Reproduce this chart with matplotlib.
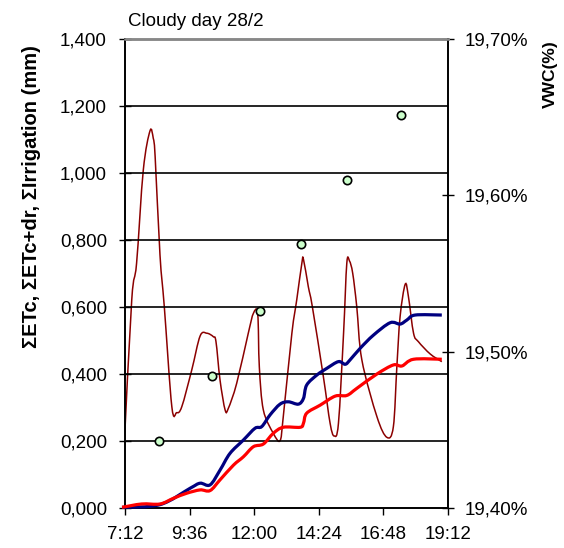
import matplotlib
matplotlib.use("Agg")
import numpy as np
import matplotlib.pyplot as plt
from matplotlib.path import Path
from matplotlib.patches import PathPatch

plt.rcParams['font.family'] = ['Liberation Sans', 'DejaVu Sans']

# Time in decimal hours
vwc_t = [7.16, 7.45, 7.63, 7.88, 8.13, 8.25, 8.32, 8.50, 8.66, 8.94, 9.12, 9.31, 9.68, 9.99,
         10.24, 10.48, 10.58, 10.73, 10.92, 11.04, 11.35, 11.78, 11.97, 12.13, 12.19, 12.34,
         12.71, 12.96, 13.08, 13.40, 13.58, 13.77, 13.83, 14.01, 14.16, 14.57, 14.82, 14.97,
         15.13, 15.32, 15.44, 15.54, 15.66, 15.81, 16.00, 16.56, 16.93, 17.17, 17.30, 17.42,
         17.61, 17.73, 17.92, 18.10, 18.54, 18.97]
vwc_v = [19.436, 19.533, 19.5565, 19.6162, 19.6413, 19.6365, 19.6247, 19.5618, 19.5288,
         19.4648, 19.4610, 19.4648, 19.4883, 19.5100, 19.5118, 19.5096, 19.5064, 19.4819,
         19.4627, 19.4638, 19.4798, 19.5118, 19.5245, 19.5241, 19.4904, 19.4627, 19.4478,
         19.4431, 19.4584, 19.5118, 19.5331, 19.5565, 19.5591, 19.5416, 19.5288, 19.4840,
         19.4542, 19.4461, 19.4542, 19.5118, 19.5565, 19.5580, 19.5501, 19.5288, 19.4947,
         19.4584, 19.4452, 19.4520, 19.4904, 19.5224, 19.5431, 19.5352, 19.5118, 19.5064,
         19.4985, 19.4936]

etc_dr_t = [7.09, 8.50, 9.62, 9.99, 10.36, 10.73, 11.10, 11.60, 12.03, 12.28, 12.59, 12.96,
            13.27, 13.64, 13.83, 13.95, 14.33, 14.70, 15.13, 15.38, 15.56, 15.94, 16.43,
            17.05, 17.42, 17.67, 17.98, 18.97]
etc_dr_v = [0.002, 0.010, 0.059, 0.074, 0.069, 0.113, 0.163, 0.203, 0.238, 0.243, 0.278,
            0.310, 0.317, 0.310, 0.327, 0.367, 0.397, 0.417, 0.437, 0.429, 0.442, 0.477,
            0.516, 0.553, 0.549, 0.561, 0.576, 0.576]

etc_t = [7.09, 7.82, 8.50, 9.00, 9.49, 9.99, 10.36, 10.73, 11.23, 11.60, 11.97, 12.34, 12.71,
         13.08, 13.71, 13.83, 13.95, 14.45, 15.01, 15.44, 15.81, 16.56, 17.17, 17.49, 17.92,
         18.97]
etc_v = [0.002, 0.012, 0.012, 0.029, 0.044, 0.054, 0.052, 0.084, 0.128, 0.153, 0.183, 0.191,
         0.223, 0.241, 0.241, 0.253, 0.283, 0.307, 0.334, 0.336, 0.357, 0.400, 0.427, 0.424,
         0.444, 0.444]

irr_t = [8.475, 10.45, 12.21, 13.73, 15.43, 17.46]
irr_v = [0.200, 0.395, 0.588, 0.787, 0.979, 1.172]

xticks = [7.2, 9.6, 12.0, 14.4, 16.8, 19.2]
xticklabels = ['7:12', '9:36', '12:00', '14:24', '16:48', '19:12']
yticks = [0.0, 0.2, 0.4, 0.6, 0.8, 1.0, 1.2, 1.4]
y2ticks = [19.40, 19.50, 19.60, 19.70]


def smooth_line(ax, xs, ys, **kw):
    """Excel-style smoothed line (Catmull-Rom rendered as cubic Bezier)."""
    p = np.column_stack([xs, ys]).astype(float)
    n = len(p)
    verts = [p[0]]
    codes = [Path.MOVETO]
    for i in range(n - 1):
        p0 = p[i - 1] if i > 0 else p[i]
        p1 = p[i]
        p2 = p[i + 1]
        p3 = p[i + 2] if i + 2 < n else p[i + 1]
        verts += [p1 + (p2 - p0) / 6.0, p2 - (p3 - p1) / 6.0, p2]
        codes += [Path.CURVE4] * 3
    patch = PathPatch(Path(verts, codes), fill=False, transform=ax.transData, **kw)
    ax.add_patch(patch)
    return patch


fig = plt.figure(figsize=(5.64, 5.48), dpi=100)
ax = fig.add_axes([125/564, 1-508/548, 323/564, 469/548])
ax2 = ax.twinx()

ax.set_xlim(7.2, 19.2)
ax.set_ylim(0, 1.4)
ax2.set_ylim(19.40, 19.70)

for y in yticks[1:-1]:
    ax.axhline(y, color='black', lw=1.2, zorder=1)

smooth_line(ax2, vwc_t, vwc_v, edgecolor='#8B0000', lw=1.1, zorder=2)
smooth_line(ax, etc_dr_t, etc_dr_v, edgecolor='#000080', lw=2.3, zorder=3, clip_on=False,
            capstyle='butt', joinstyle='round')
smooth_line(ax, etc_t, etc_v, edgecolor='#FF0000', lw=2.3, zorder=3, clip_on=False,
            capstyle='butt', joinstyle='round')
ax.plot(irr_t, irr_v, 'o', ms=6, mfc='#CCFFCC', mec='black', mew=1.2, zorder=4)

ax.set_zorder(ax2.get_zorder() + 1)
ax.patch.set_visible(False)

ax.set_xticks(xticks)
ax.set_xticklabels(xticklabels)
ax.set_yticks(yticks)
ax.set_yticklabels([('%.3f' % v).replace('.', ',') for v in yticks])
ax2.set_yticks(y2ticks)
ax2.set_yticklabels([('%.2f%%' % v).replace('.', ',') for v in y2ticks])

ax.tick_params(axis='x', direction='out', length=5, width=1, labelsize=13.5, pad=8)
ax.tick_params(axis='y', direction='inout', length=8, width=1, labelsize=13.5, pad=9)
ax2.tick_params(axis='y', direction='inout', length=8, width=1, labelsize=13.5, pad=8)

for a in (ax, ax2):
    for s in ('left', 'right', 'bottom'):
        a.spines[s].set_color('black')
        a.spines[s].set_linewidth(1.2)
    a.spines['top'].set_color('#888888')
    a.spines['top'].set_linewidth(1.8)

fig.text(128/564, 1-22/548, 'Cloudy day 28/2', fontsize=13.5, ha='left', va='center')
fig.text(32/564, 1-197/548, 'ΣETc, ΣETc+dr, ΣIrrigation (mm)', rotation=90,
         fontsize=14.5, fontweight='bold', ha='center', va='center')
fig.text(550/564, 1-74/548, 'VWC(%)', rotation=90, fontsize=12.5, fontweight='bold',
         ha='center', va='center')

fig.savefig('out.png', dpi=100)
